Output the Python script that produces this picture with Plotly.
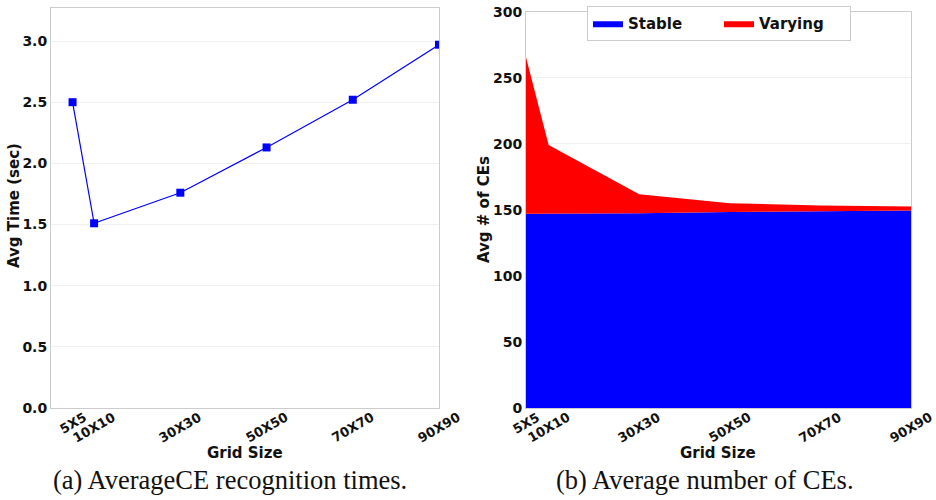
import plotly.graph_objects as go
from plotly.subplots import make_subplots

# Grid sizes (numeric side length) and their labels
grid_side = [5, 10, 30, 50, 70, 90]
grid_labels = ["5X5", "10X10", "30X30", "50X50", "70X70", "90X90"]

# (a) average recognition time per grid size (seconds)
avg_time = [2.50, 1.51, 1.76, 2.13, 2.52, 2.97]

# (b) average number of CEs, split into stable and varying
stable_ces = [147.0, 147.0, 147.5, 148.3, 149.0, 149.5]
varying_ces = [118.5, 52.0, 14.4, 6.7, 4.3, 3.0]

BOLD = "DejaVu Sans"
SERIF = "Liberation Serif"
BLUE = "#0000ff"
RED = "#ff0000"
INK = "#111111"

fig = make_subplots(rows=1, cols=2)

fig.add_trace(go.Scatter(
    x=grid_side, y=avg_time, mode="lines+markers",
    line=dict(color=BLUE, width=1.2),
    marker=dict(symbol="square", size=8, color=BLUE),
    showlegend=False), row=1, col=1)

fig.add_trace(go.Scatter(
    x=grid_side, y=stable_ces, name="Stable", stackgroup="ces",
    mode="lines", line=dict(width=0, color=BLUE), fillcolor=BLUE),
    row=1, col=2)
fig.add_trace(go.Scatter(
    x=grid_side, y=varying_ces, name="Varying", stackgroup="ces",
    mode="lines", line=dict(width=0, color=RED), fillcolor=RED),
    row=1, col=2)

frame = dict(showline=True, linecolor="#cccccc", linewidth=1, mirror=True,
             ticks="", zeroline=False, automargin=False)
tickfont = dict(family=BOLD, size=14, color=INK, weight="bold")

fig.update_xaxes(domain=[51 / 936, 439 / 936], range=[0, 90],
                 tickvals=grid_side, showticklabels=False,
                 showgrid=False, **frame, row=1, col=1)
fig.update_yaxes(domain=[1 - 408 / 500, 1 - 8 / 500], range=[0, 3.27],
                 tickvals=[0, 0.5, 1, 1.5, 2, 2.5, 3],
                 ticktext=["0.0", "0.5", "1.0", "1.5", "2.0", "2.5", "3.0"],
                 tickfont=tickfont, showgrid=True, gridcolor="#f0f0f0",
                 **frame, row=1, col=1)

fig.update_xaxes(domain=[526 / 936, 911 / 936], range=[5, 90],
                 tickvals=grid_side, showticklabels=False,
                 showgrid=False, **frame, row=1, col=2)
fig.update_yaxes(domain=[1 - 408 / 500, 1 - 11.7 / 500], range=[0, 300],
                 tickvals=[0, 50, 100, 150, 200, 250, 300],
                 tickfont=tickfont, showgrid=True, gridcolor="#f0f0f0",
                 **frame, row=1, col=2)

# Rotated category labels, hung from their top edge under each tick
for xref in ("x", "x2"):
    for xv, lab in zip(grid_side, grid_labels):
        fig.add_annotation(x=xv, xref=xref, y=1 - 407 / 500, yref="paper",
                           text=lab, textangle=-30,
                           showarrow=False, xanchor="center", yanchor="top",
                           font=dict(family=BOLD, size=13, color=INK,
                                     weight="bold"))

titlefont = dict(family=BOLD, size=15, color=INK, weight="bold")


def label(x, y, text, font, angle=0):
    fig.add_annotation(x=x / 936, y=1 - y / 500, xref="paper", yref="paper",
                       text=text, textangle=angle, showarrow=False,
                       xanchor="center", yanchor="middle", font=font)


label(245, 453, "Grid Size", titlefont)
label(718, 453, "Grid Size", titlefont)
label(14, 206, "Avg Time (sec)", titlefont, -90)
label(484, 210, "Avg # of CEs", titlefont, -90)

capfont = dict(family=SERIF, size=26.5, color=INK)
label(230, 480, "(a) AverageCE recognition times.", capfont)
label(705, 480, "(b) Average number of CEs.", capfont)

fig.update_layout(
    width=936, height=500, margin=dict(l=0, r=0, t=0, b=0),
    paper_bgcolor="white", plot_bgcolor="white",
    legend=dict(orientation="h", x=719 / 936, y=1 - 6 / 500,
                xanchor="center", yanchor="top",
                bgcolor="white", bordercolor="#cccccc", borderwidth=1,
                font=dict(family=BOLD, size=15, color=INK, weight="bold"),
                itemwidth=30, entrywidth=86, traceorder="normal"),
)

fig.write_html("out.html")
